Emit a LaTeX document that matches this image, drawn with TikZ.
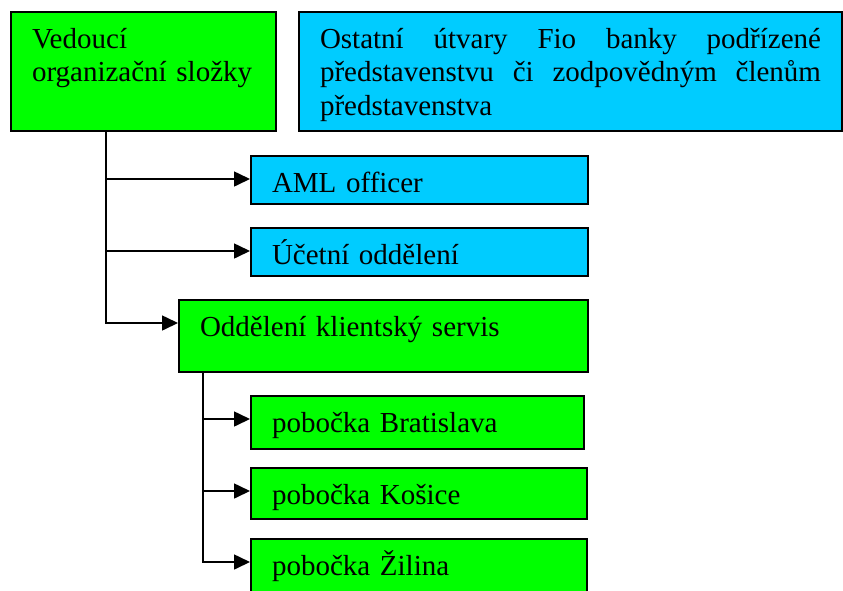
\documentclass[tikz,border=0pt]{standalone}
\usepackage{fontspec}
\setmainfont{Liberation Serif}
\usetikzlibrary{arrows.meta}
\definecolor{unitgreen}{RGB}{0,255,0}
\definecolor{unitblue}{RGB}{0,204,255}
\hyphenpenalty=10000
\tikzset{
    unit/.style={draw, line width=2pt, anchor=north west, inner xsep=21pt, inner ysep=0pt,
        text height=36pt, align=left, font=\fontsize{29}{33.5}\selectfont},
    link/.style={line width=1.6pt, -{Triangle[length=16pt, width=15pt]}}
}

\begin{document}
\begin{tikzpicture}[x=1pt, y=-1pt]
        \useasboundingbox (0, 0) rectangle (843, 590);

        \node [unit, fill=unitgreen, text width=223pt, text depth=83pt] (ved) at (10, 11) {Vedoucí\\organizační složky};
        \node [unit, fill=unitblue, text width=501pt, text depth=83pt, align=justify] (ost) at (298, 11) {Ostatní útvary Fio banky podřízené představenstvu či zodpovědným členům představenstva};

        \node [unit, fill=unitblue, text width=295pt, text depth=12pt] (aml) at (250, 155) {AML officer};
        \node [unit, fill=unitblue, text width=295pt, text depth=12pt] (ucet) at (250, 227) {Účetní oddělení};
        \node [unit, fill=unitgreen, text width=367pt, text depth=36pt] (oks) at (178, 299) {Oddělení klientský servis};

        \node [unit, fill=unitgreen, text width=291pt, text depth=17pt] (bra) at (250, 395) {pobočka Bratislava};
        \node [unit, fill=unitgreen, text width=294pt, text depth=15pt] (kos) at (250, 467) {pobočka Košice};
        \node [unit, fill=unitgreen, text width=294pt, text depth=18pt] (zil) at (250, 538) {pobočka Žilina};

        \foreach \unit in {aml, ucet, oks}
        {
            \draw [link] ([xshift=96pt]ved.south west) |- ([yshift=-24pt]\unit.north west);
        }
        \foreach \unit in {bra, kos, zil}
        {
            \draw [link] ([xshift=25pt]oks.south west) |- ([yshift=-24pt]\unit.north west);
        }
    \end{tikzpicture}
\end{document}
